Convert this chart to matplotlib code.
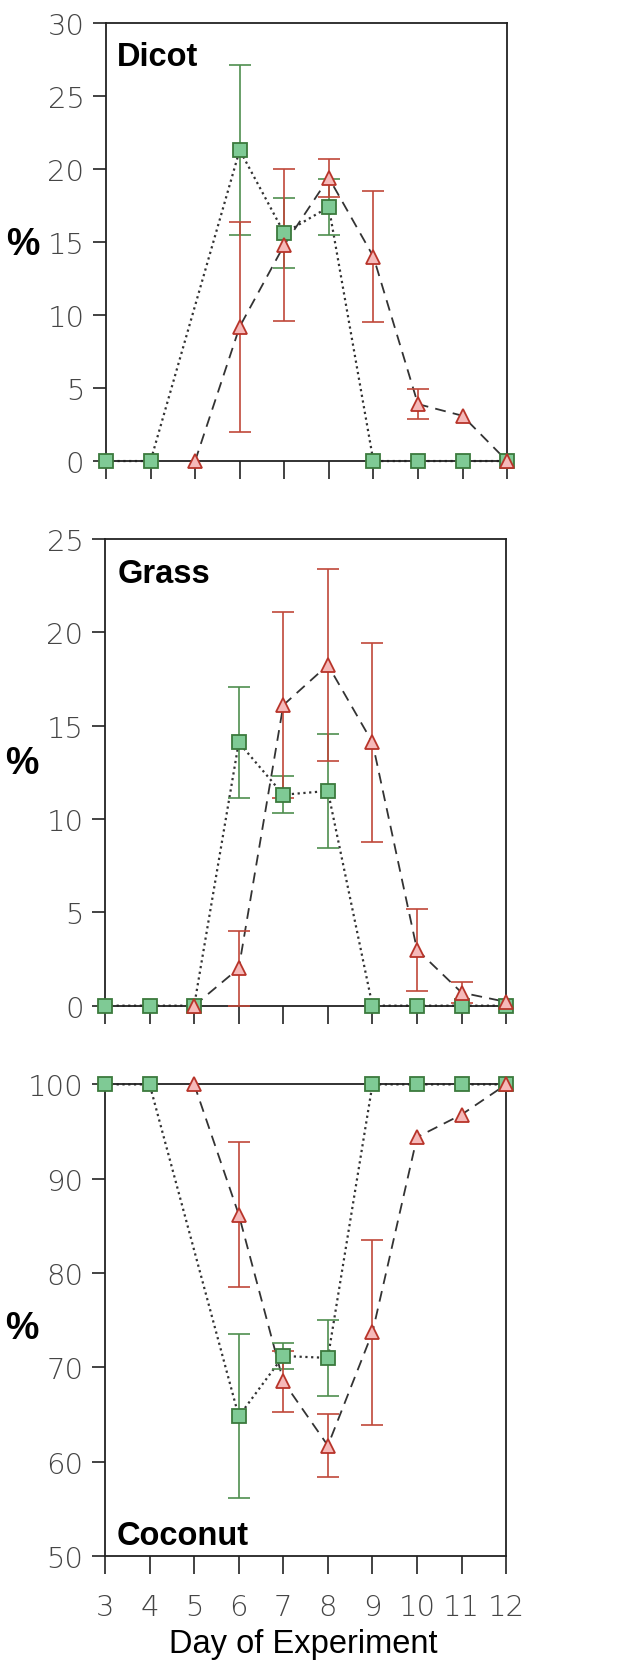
import numpy as np
import matplotlib
matplotlib.use("Agg")
import matplotlib.pyplot as plt

# days on the x axis
days = [3, 4, 5, 6, 7, 8, 9, 10, 11, 12]

# Dicot panel
dicot_sq_days = [3, 4, 6, 7, 8, 9, 10, 11, 12]
dicot_sq = [0, 0, 21.3, 15.6, 17.4, 0, 0, 0, 0]
dicot_sq_err = [0, 0, 5.8, 2.4, 1.9, 0, 0, 0, 0]
dicot_tri_days = [5, 6, 7, 8, 9, 10, 11, 12]
dicot_tri = [0, 9.2, 14.8, 19.4, 14.0, 3.9, 3.1, 0]
dicot_tri_err = [0, 7.2, 5.2, 1.3, 4.5, 1.0, 0, 0]

# Grass panel
grass_sq_days = [3, 4, 5, 6, 7, 8, 9, 10, 11, 12]
grass_sq = [0, 0, 0, 14.1, 11.3, 11.5, 0, 0, 0, 0]
grass_sq_err = [0, 0, 0, 2.95, 1.0, 3.05, 0, 0, 0, 0]
grass_tri_days = [5, 6, 7, 8, 9, 10, 11, 12]
grass_tri = [0, 2.0, 16.1, 18.25, 14.1, 3.0, 0.7, 0.2]
grass_tri_err = [0, 2.0, 5.0, 5.15, 5.35, 2.2, 0.57, 0]

# Coconut panel
coconut_sq_days = [3, 4, 6, 7, 8, 9, 10, 11, 12]
coconut_sq = [100, 100, 64.8, 71.2, 71.0, 100, 100, 100, 100]
coconut_sq_err = [0, 0, 8.7, 1.4, 4.0, 0, 0, 0, 0]
coconut_tri_days = [5, 6, 7, 8, 9, 10, 11, 12]
coconut_tri = [100, 86.2, 68.5, 61.7, 73.7, 94.4, 96.8, 100]
coconut_tri_err = [0, 7.7, 3.2, 3.3, 9.85, 0, 0, 0]

panel_names = ["Dicot", "Grass", "Coconut"]
ylims = [(0, 30), (0, 25), (50, 100)]
ystep = [5, 5, 10]

GREEN_FILL = "#7fca95"
GREEN_EDGE = "#3b7a3d"
GREEN_ERR = "#4f8f4f"
RED_FILL = "#f6b9b9"
RED_EDGE = "#b8342a"
RED_ERR = "#c0483a"
LINE = "#333333"
TICK_TXT = "#454545"

fig = plt.figure(figsize=(6.18, 16.65), dpi=100)

# axes boxes in figure fractions (left, bottom, width, height)
boxes = [(0.1715, 0.7225, 0.649, 0.2631),
         (0.1700, 0.3954, 0.6490, 0.2803),
         (0.1700, 0.0649, 0.6490, 0.2832)]
name_pos = [(0.027, 0.904), (0.032, 0.908), (0.030, 0.025)]
pct_y = [0.495, 0.52, 0.484]

series = [
    (dicot_sq_days, dicot_sq, dicot_sq_err, dicot_tri_days, dicot_tri, dicot_tri_err),
    (grass_sq_days, grass_sq, grass_sq_err, grass_tri_days, grass_tri, grass_tri_err),
    (coconut_sq_days, coconut_sq, coconut_sq_err, coconut_tri_days, coconut_tri, coconut_tri_err),
]


def draw_err(ax, x, y, e, color):
    x = np.array(x, float)
    y = np.array(y, float)
    e = np.array(e, float)
    m = e > 0
    if m.any():
        ax.errorbar(x[m], y[m], yerr=e[m], fmt="none", ecolor=color,
                    elinewidth=1.2, capsize=8, capthick=1.2, zorder=3, clip_on=False)


for i, ax_box in enumerate(boxes):
    ax = fig.add_axes(ax_box)
    sq_d, sq_v, sq_e, tr_d, tr_v, tr_e = series[i]

    ax.plot(sq_d, sq_v, linestyle=(0, (1, 1.6)), color=LINE, lw=1.6, zorder=2, clip_on=False)
    ax.plot(tr_d, tr_v, linestyle=(0, (6, 4)), color=LINE, lw=1.3, zorder=2, clip_on=False)

    draw_err(ax, sq_d, sq_v, sq_e, GREEN_ERR)
    draw_err(ax, tr_d, tr_v, tr_e, RED_ERR)

    ax.plot(sq_d, sq_v, "s", ms=10, mfc=GREEN_FILL, mec=GREEN_EDGE, mew=1.3,
            zorder=4, clip_on=False)
    ax.plot(tr_d, tr_v, "^", ms=10, mfc=RED_FILL, mec=RED_EDGE, mew=1.3,
            zorder=5, clip_on=False)

    ax.set_xlim(3, 12)
    ax.set_ylim(*ylims[i])
    ax.set_xticks(days)
    ax.set_yticks(np.arange(ylims[i][0], ylims[i][1] + 0.1, ystep[i]))

    for sp in ax.spines.values():
        sp.set_linewidth(1.3)
        sp.set_color("#222222")

    ax.tick_params(axis="y", direction="out", length=9.5, width=1.2, pad=6,
                   labelsize=21, labelcolor=TICK_TXT, color="#222222")
    ax.tick_params(axis="x", direction="out", length=13, width=1.2, pad=14,
                   labelsize=21, labelcolor=TICK_TXT, color="#222222")
    for lab in ax.get_xticklabels() + ax.get_yticklabels():
        lab.set_family("DejaVu Sans")
        lab.set_fontweight("light")
    if i < 2:
        ax.tick_params(axis="x", labelbottom=False)

    nx, ny = name_pos[i]
    ax.text(nx, ny, panel_names[i], transform=ax.transAxes, fontsize=23.5,
            fontweight="bold", family="Liberation Sans", va="baseline", ha="left",
            color="black")
    ax.text(-0.207, pct_y[i], "%", transform=ax.transAxes, fontsize=27,
            fontweight="bold", family="Liberation Sans", va="center", ha="center")

fig.text(0.4906, 0.0072, "Day of Experiment", ha="center", va="baseline",
         fontsize=23.5, family="Liberation Sans", color="black")

fig.savefig("out.png", dpi=100)
